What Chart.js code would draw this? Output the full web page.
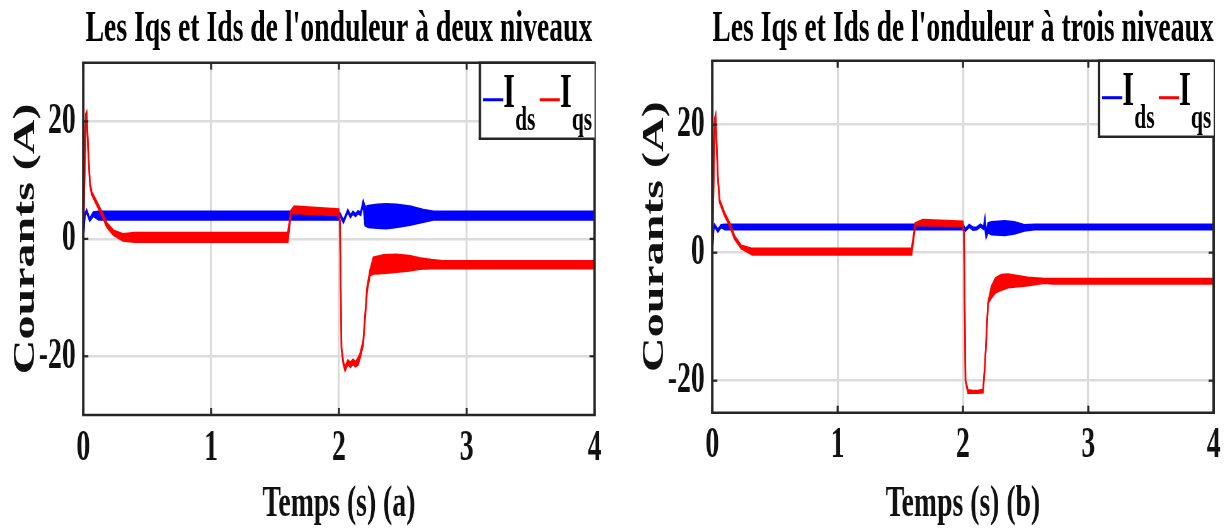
<!DOCTYPE html>
<html><head><meta charset="utf-8">
<script src="https://cdn.jsdelivr.net/npm/chart.js@4.4.0/dist/chart.umd.min.js"></script>
<style>
html,body{margin:0;padding:0;background:#fff;width:1225px;height:530px;overflow:hidden;}
.panel{position:absolute;top:0;transform-origin:0 0;transform:scaleX(0.63);}
canvas{display:block;}
</style></head><body>
<div class="panel" style="left:0px"><canvas id="ca" width="971" height="530"></canvas></div>
<div class="panel" style="left:629.4px"><canvas id="cb" width="946" height="530"></canvas></div>
<script>
// ---- texts ----
const titleA = "Les Iqs et Ids de l'onduleur à deux niveaux";
const titleB = "Les Iqs et Ids de l'onduleur à trois niveaux";
const xLabelA = "Temps (s) (a)";
const xLabelB = "Temps (s) (b)";
const yLabel = "Courants (A)";
const legendMain = ["I", "I"];
const legendSub = ["ds", "qs"];

// ---- ticks ----
const xTicks = [0, 1, 2, 3, 4];
const yTicks = [-20, 0, 20];
const xRange = [0, 4];
const yRangeA = [-30, 30];
const yRangeB = [-25, 30];

// ---- panel (a): two-level inverter; envelopes (upper / lower) of each current ----
const idsA_t  = [0, 0.012, 0.026, 0.05, 0.078, 0.12, 1.995, 2.01, 2.035, 2.07, 2.09, 2.11, 2.13, 2.15, 2.17, 2.19, 2.205, 2.23, 2.3, 2.37, 2.45, 2.556, 2.66, 2.74, 2.85, 4.0];
const idsA_hi = [0, 4.2, 4.9, 3.4, 4.5, 4.6, 4.6, 4.3, 3.1, 4.9, 4.0, 4.6, 4.2, 4.7, 4.4, 6.4, 5.4, 5.6, 5.8, 5.9, 5.8, 5.5, 4.9, 4.6, 4.6, 4.6];
const idsA_lo = [0, 3.9, 4.6, 3.1, 3.9, 3.3, 3.3, 3.9, 2.8, 4.6, 3.7, 4.3, 3.9, 4.4, 4.1, 5.9, 2.3, 2.0, 1.9, 1.8, 2.0, 2.4, 2.9, 3.3, 3.3, 3.3];

const iqsA_t  = [0, 0.02, 0.026, 0.04, 0.052, 0.065, 0.105, 0.144, 0.183, 0.235, 0.31, 0.40, 1.60, 1.625, 1.65, 1.998, 2.008, 2.02, 2.035, 2.048, 2.07, 2.09, 2.11, 2.13, 2.15, 2.165, 2.19, 2.22, 2.243, 2.27, 2.35, 2.45, 2.55, 2.63, 2.72, 2.815, 4.0];
const iqsA_hi = [0, 21.3, 21.6, 14.5, 9.6, 8.0, 6.3, 4.6, 2.7, 1.4, 0.8, 1.0, 1.0, 4.8, 5.5, 5.0, 3.0, -18.5, -21.0, -21.9, -20.7, -21.1, -20.6, -21.0, -20.3, -19.6, -17.4, -8.3, -5.4, -3.2, -2.8, -2.7, -2.9, -3.3, -3.6, -3.8, -3.8];
const iqsA_lo = [0, 21.0, 21.2, 14.1, 9.2, 7.6, 5.8, 4.1, 2.1, 0.7, -0.3, -0.5, -0.5, 4.3, 4.4, 4.0, 3.0, -18.8, -21.4, -22.4, -21.3, -21.8, -21.3, -21.7, -21.4, -20.3, -18.0, -9.0, -6.2, -5.9, -5.8, -5.6, -5.4, -5.1, -5.0, -5.0, -5.0];

// ---- panel (b): three-level inverter ----
const idsB_t  = [0, 0.01, 0.018, 0.045, 0.07, 0.1, 2.0, 2.02, 2.05, 2.08, 2.11, 2.14, 2.165, 2.175, 2.185, 2.2, 2.227, 2.333, 2.41, 2.49, 2.57, 4.0];
const idsB_hi = [0, 3.8, 4.4, 3.6, 4.3, 4.35, 4.35, 3.7, 4.35, 3.9, 3.95, 4.4, 4.0, 5.3, 3.1, 4.6, 4.75, 4.9, 4.75, 4.3, 4.35, 4.35];
const idsB_lo = [0, 3.6, 4.1, 3.3, 4.0, 3.65, 3.65, 3.45, 4.05, 3.6, 3.65, 4.1, 3.7, 3.9, 2.4, 3.2, 2.9, 2.75, 3.0, 3.45, 3.65, 3.65];

const iqsB_t  = [0, 0.02, 0.026, 0.045, 0.058, 0.098, 0.137, 0.177, 0.23, 0.32, 1.59, 1.62, 1.68, 1.998, 2.008, 2.02, 2.04, 2.08, 2.12, 2.16, 2.175, 2.2, 2.227, 2.26, 2.306, 2.36, 2.518, 2.65, 2.71, 4.0];
const iqsB_hi = [0, 21.0, 21.5, 11.9, 8.3, 6.2, 4.7, 2.6, 1.1, 0.6, 0.6, 4.6, 5.1, 4.85, 3.0, -20.0, -21.5, -21.6, -21.6, -21.4, -17.7, -7.9, -5.3, -4.0, -3.5, -3.4, -3.9, -4.1, -4.1, -4.1];
const iqsB_lo = [0, 20.6, 21.2, 11.5, 7.9, 5.8, 4.3, 2.2, 0.7, -0.3, -0.3, 4.3, 4.3, 4.2, 3.0, -20.0, -21.9, -21.9, -21.9, -21.8, -17.7, -7.9, -7.0, -6.2, -5.8, -5.4, -5.1, -4.7, -4.8, -4.8];

// ---- rendering ----
const SQ = 0.63;           // horizontal squeeze of the panels (CSS)
const VX = 1 / SQ;         // compensation for vertical strokes
const FONT = 'Liberation Serif';
const BLUE = '#0000ff', RED = '#ff0000', FRAME = '#262626';

function pts(t, v) { return t.map((x, i) => ({x: x, y: v[i]})); }

const framePlugin = {
  id: 'frame',
  afterDraw(chart) {
    const ctx = chart.ctx;
    const {left, right, top, bottom} = chart.chartArea;
    const xs = chart.scales.x, ys = chart.scales.y;
    const ln = (a, b, c, d) => { ctx.beginPath(); ctx.moveTo(a, b); ctx.lineTo(c, d); ctx.stroke(); };
    ctx.save();
    ctx.strokeStyle = FRAME;
    ctx.lineWidth = 2 * VX;
    xTicks.forEach(v => { const p = xs.getPixelForValue(v); ln(p, top, p, top + 7); ln(p, bottom, p, bottom - 7); });
    ctx.lineWidth = 2.2;
    yTicks.forEach(v => { const p = ys.getPixelForValue(v); ln(left, p, left + 8, p); ln(right, p, right - 8, p); });
    // box
    ctx.lineWidth = 2.5;
    ln(left - 1.25 * VX, top, right + 1.25 * VX, top);
    ln(left - 1.25 * VX, bottom, right + 1.25 * VX, bottom);
    ctx.lineWidth = 2.5 * VX;
    ln(left, top, left, bottom);
    ln(right, top, right, bottom);
    // legend
    const bw = 182, bh = 76;
    const bx = right - bw, by = top;
    ctx.fillStyle = '#fff';
    ctx.fillRect(bx, by, bw, bh);
    ctx.lineWidth = 2.5;
    ln(bx - 1.25 * VX, by, right, by);
    ln(bx - 1.25 * VX, by + bh, right, by + bh);
    ctx.lineWidth = 2.5 * VX;
    ln(bx, by, bx, by + bh);
    const cols = [BLUE, RED];
    const offs = [0, 90];
    ctx.fillStyle = '#000';
    ctx.textBaseline = 'alphabetic';
    ctx.textAlign = 'left';
    for (let i = 0; i < 2; i++) {
      const o = bx + offs[i];
      ctx.strokeStyle = cols[i];
      ctx.lineWidth = 3;
      ln(o + 5, by + 37, o + 37, by + 37);
      ctx.font = 'bold 48px "' + FONT + '"';
      ctx.fillText(legendMain[i], o + 37, by + 44);
      ctx.font = 'bold 34px "' + FONT + '"';
      ctx.fillText(legendSub[i], o + 56, by + 67);
    }
    ctx.restore();
  }
};

function makeChart(id, cfg) {
  const ds = (data, color, fill, order) => ({
    data: data, borderColor: color, backgroundColor: color, borderWidth: 2.5,
    pointRadius: 0, tension: 0, fill: fill, order: order
  });
  return new Chart(document.getElementById(id), {
    type: 'line',
    data: {
      datasets: [
        ds(pts(cfg.iqsT, cfg.iqsHi), RED, false, 0),
        ds(pts(cfg.iqsT, cfg.iqsLo), RED, '-1', 0),
        ds(pts(cfg.idsT, cfg.idsHi), BLUE, false, 1),
        ds(pts(cfg.idsT, cfg.idsLo), BLUE, '-1', 1)
      ]
    },
    options: {
      responsive: false, animation: false, devicePixelRatio: 1, events: [],
      layout: {padding: {left: 0, right: cfg.padRight, top: 0, bottom: 0}},
      plugins: {
        legend: {display: false}, tooltip: {enabled: false},
        title: {display: true, text: cfg.title, fullSize: false, color: '#000',
          font: {family: FONT, size: 44, weight: 'bold', lineHeight: 1.2},
          padding: {top: 3.6, bottom: cfg.titlePadBottom}}
      },
      scales: {
        x: {
          type: 'linear', position: 'bottom', min: xRange[0], max: xRange[1],
          afterBuildTicks: s => { s.ticks = xTicks.map(v => ({value: v})); },
          afterFit: s => { s.height = cfg.xAxisHeight; },
          grid: {color: '#d9d9d9', lineWidth: 2 * VX, drawTicks: false},
          border: {display: false},
          ticks: {color: '#111', padding: 7, maxRotation: 0, autoSkip: false,
            font: {family: FONT, size: 44, weight: 'bold', lineHeight: 1.2},
            callback: v => String(v)},
          title: {display: true, text: cfg.xLabel, color: '#111',
            font: {family: FONT, size: 44, weight: 'bold', lineHeight: 1.1},
            padding: {top: 0, bottom: 1}}
        },
        y: {
          type: 'linear', min: cfg.yRange[0], max: cfg.yRange[1],
          afterBuildTicks: s => { s.ticks = yTicks.map(v => ({value: v})); },
          afterFit: s => { s.width = 132.2; },
          grid: {color: '#dcdcdc', lineWidth: 2.5, drawTicks: false},
          border: {display: false},
          ticks: {color: '#111', padding: 12, autoSkip: false,
            font: {family: FONT, size: 44, weight: 'bold', lineHeight: 1.2},
            callback: v => String(v)},
          title: {display: true, text: yLabel, color: '#111',
            font: {family: FONT, size: 48, weight: 'bold', lineHeight: 1.2},
            padding: {top: 13, bottom: 0}}
        }
      }
    },
    plugins: [framePlugin]
  });
}

makeChart('ca', {
  title: titleA, xLabel: xLabelA, yRange: yRangeA,
  padRight: 27.3, titlePadBottom: 6.3, xAxisHeight: 115,
  idsT: idsA_t, idsHi: idsA_hi, idsLo: idsA_lo,
  iqsT: iqsA_t, iqsHi: iqsA_hi, iqsLo: iqsA_lo
});
makeChart('cb', {
  title: titleB, xLabel: xLabelB, yRange: yRangeB,
  padRight: 13.8, titlePadBottom: 4.3, xAxisHeight: 117.3,
  idsT: idsB_t, idsHi: idsB_hi, idsLo: idsB_lo,
  iqsT: iqsB_t, iqsHi: iqsB_hi, iqsLo: iqsB_lo
});
</script>
</body></html>
